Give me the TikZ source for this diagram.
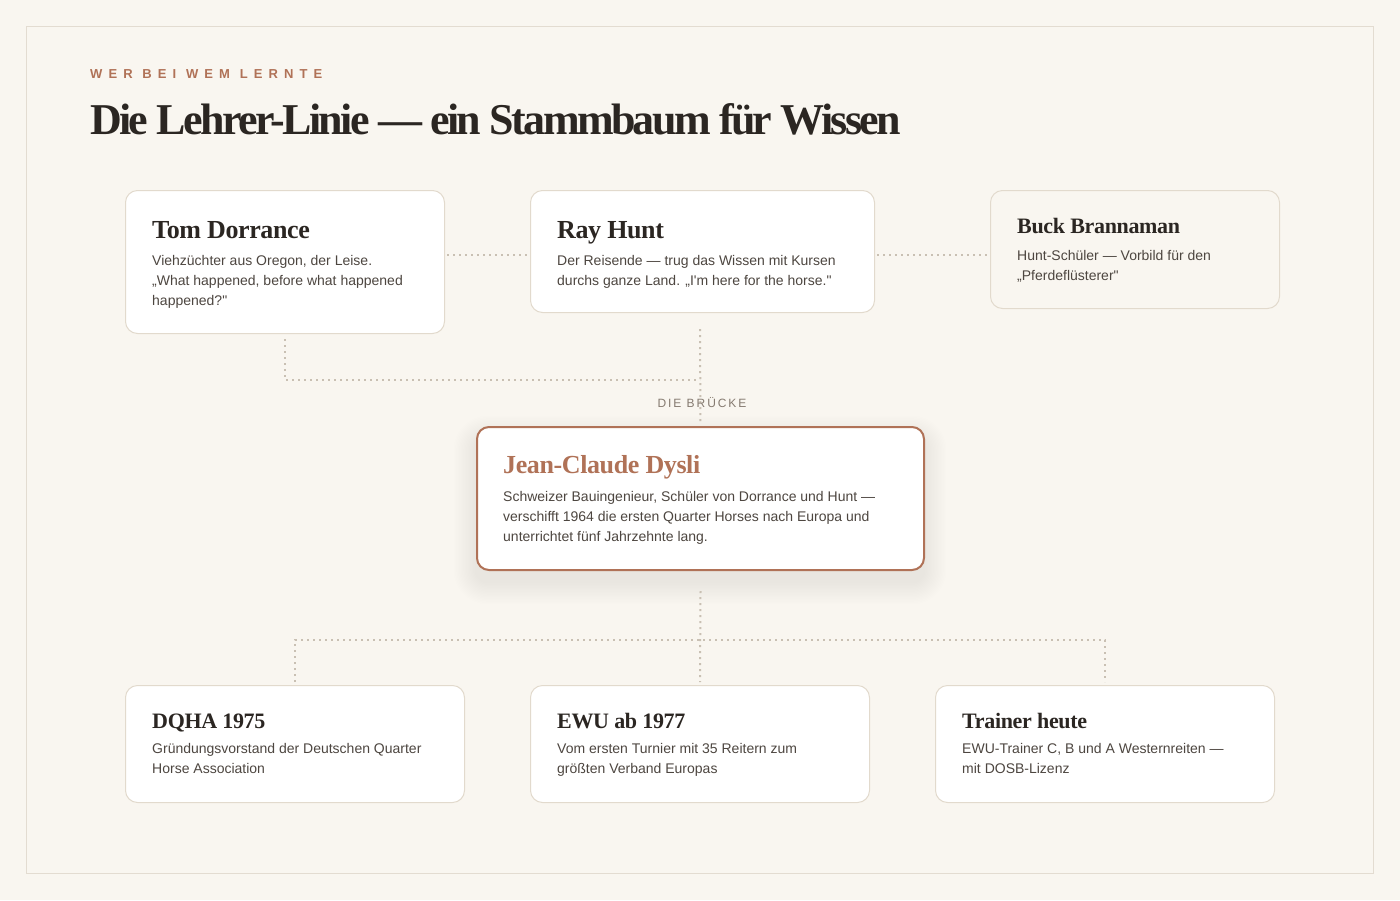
\documentclass[tikz,border=0pt]{standalone}
\usepackage{fontspec}
\setmainfont{Liberation Serif}
\setsansfont{Liberation Sans}
\newfontfamily\headserif[LetterSpace=-6]{Liberation Serif}
\newfontfamily\cardserif[LetterSpace=-1.5]{Liberation Serif}
\newfontfamily\kickerfont[LetterSpace=47]{Liberation Sans}
\newfontfamily\labelfont[LetterSpace=16]{Liberation Sans}
\newfontfamily\bodyfont{Liberation Sans}
\definecolor{bg}{HTML}{F9F6F0}
\definecolor{framec}{HTML}{E3DCD1}
\definecolor{cardline}{HTML}{E2DACD}
\definecolor{accent}{HTML}{B07257}
\definecolor{shadowc}{HTML}{C98A6A}
\definecolor{dark}{HTML}{2B2622}
\definecolor{bodyc}{HTML}{4D4640}
\definecolor{labelc}{HTML}{857A70}
\definecolor{connc}{HTML}{C9C0B3}
\begin{document}
\begin{tikzpicture}[x=1pt,y=-1pt,
  card/.style={draw=cardline, line width=1pt, fill=white, rounded corners=12pt,
    inner sep=0pt, anchor=north west},
  softcard/.style={card, fill=bg},
  keycard/.style={card, draw=accent, line width=2pt},
  bigname/.style={anchor=base west, inner sep=0pt, text=dark,
    font={\cardserif\bfseries\fontsize{26}{30}\selectfont}},
  smallname/.style={anchor=base west, inner sep=0pt, text=dark,
    font={\cardserif\bfseries\fontsize{22}{26}\selectfont}},
  bodytext/.style={anchor=north west, inner sep=0pt, align=left, text=bodyc,
    font={\bodyfont\fontsize{14}{20}\selectfont}},
  conn/.style={draw=connc, line width=2pt, dash pattern=on 2pt off 4pt}
]
\useasboundingbox (0,0) rectangle (1400,900);
\fill[bg] (0,0) rectangle (1400,900);
\draw[framec, line width=1pt] (26.5,26.5) rectangle (1373.5,873.5);

% header
\node[anchor=base west, inner sep=0pt, text=accent,
  font={\kickerfont\bfseries\fontsize{13}{15}\selectfont}] (kicker) at (90,78) {WER BEI WEM LERNTE};
\node[anchor=base west, inner sep=0pt, text=dark,
  font={\headserif\bfseries\fontsize{44}{50}\selectfont}] (title) at (90,134) {Die Lehrer-Linie — ein Stammbaum für Wissen};

% shadow of key card
\foreach \i in {1,...,16}{
  \pgfmathsetmacro\rc{12+\i*1.4}
  \fill[shadowc, opacity=0.005, rounded corners=\rc pt]
    ({476-\i*1.4},{426-\i*1.4+12}) rectangle ({924+\i*1.4},{570+\i*1.4+12});
}

% cards
\node[card, minimum width=319pt, minimum height=143pt] (tom) at (125,190) {};
\node[card, minimum width=344pt, minimum height=122pt] (ray) at (530,190) {};
\node[softcard, minimum width=289pt, minimum height=118pt] (buck) at (990,190) {};
\node[keycard, minimum width=447pt, minimum height=143pt] (dysli) at (476,426) {};
\node[card, minimum width=339pt, minimum height=117pt] (dqha) at (125,685) {};
\node[card, minimum width=339pt, minimum height=117pt] (ewu) at (530,685) {};
\node[card, minimum width=339pt, minimum height=117pt] (trainer) at (935,685) {};

% connectors
\coordinate (rayfoot) at (700,329);
\coordinate (tomjoin) at (700,380);
\coordinate (split) at (700,640);
\draw[conn] ([xshift=2pt]tom.east |- 0,255) -- (ray.west |- 0,255);
\draw[conn] ([xshift=2pt]ray.east |- 0,255) -- (buck.west |- 0,255);
\draw[conn] ([yshift=-5pt]tom.south) |- (tomjoin);
\draw[conn] (rayfoot) -- ([yshift=3pt]dysli.north);
\draw[conn] ([yshift=-20pt]dysli.south) -- ([yshift=3pt]ewu.north);
\draw[conn] ([yshift=3pt]dqha.north) |- (split) -| ([yshift=3pt]trainer.north);

\node[anchor=base, inner sep=0pt, text=labelc,
  font={\labelfont\fontsize{12}{14}\selectfont}] (bruecke) at (702,407) {DIE BRÜCKE};

% card texts
\node[bigname] (tomT) at (152,238) {Tom Dorrance};
\node[bodytext] (tomB) at (152,251) {\rule{0pt}{14pt}Viehzüchter aus Oregon, der Leise.\\„What happened, before what happened\\happened?"};

\node[bigname] (rayT) at (557,238) {Ray Hunt};
\node[bodytext] (rayB) at (557,251) {\rule{0pt}{14pt}Der Reisende — trug das Wissen mit Kursen\\durchs ganze Land. „I'm here for the horse."};

\node[smallname] (buckT) at (1017,233) {Buck Brannaman};
\node[bodytext] (buckB) at (1017,246) {\rule{0pt}{14pt}Hunt-Schüler — Vorbild für den\\„Pferdeflüsterer"};

\node[bigname, text=accent] (dysliT) at (503,473) {Jean-Claude Dysli};
\node[bodytext] (dysliB) at (503,487) {\rule{0pt}{14pt}Schweizer Bauingenieur, Schüler von Dorrance und Hunt —\\verschifft 1964 die ersten Quarter Horses nach Europa und\\unterrichtet fünf Jahrzehnte lang.};

\node[smallname] (dqhaT) at (152,728) {DQHA 1975};
\node[bodytext] (dqhaB) at (152,739) {\rule{0pt}{14pt}Gründungsvorstand der Deutschen Quarter\\Horse Association};

\node[smallname] (ewuT) at (557,728) {EWU ab 1977};
\node[bodytext] (ewuB) at (557,739) {\rule{0pt}{14pt}Vom ersten Turnier mit 35 Reitern zum\\größten Verband Europas};

\node[smallname] (trainerT) at (962,728) {Trainer heute};
\node[bodytext] (trainerB) at (962,739) {\rule{0pt}{14pt}EWU-Trainer C, B und A Westernreiten —\\mit DOSB-Lizenz};
\end{tikzpicture}
\end{document}
